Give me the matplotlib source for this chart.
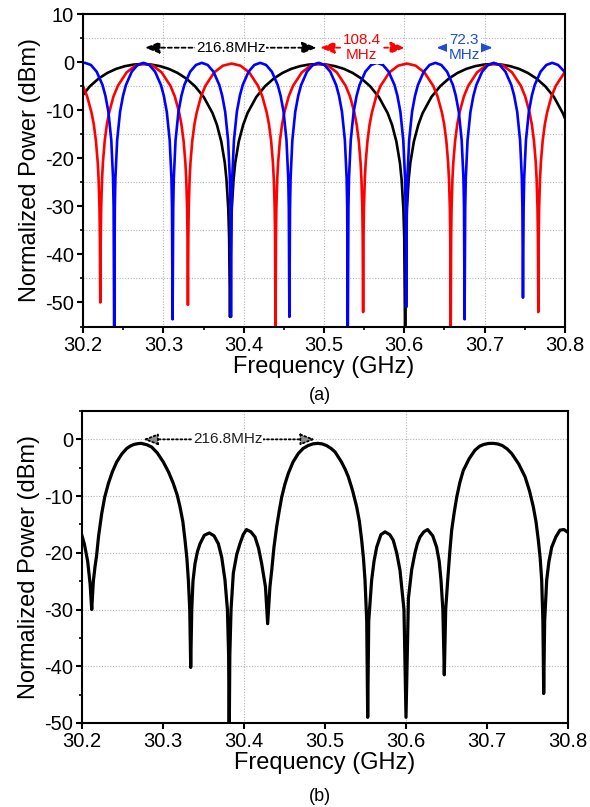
import matplotlib
matplotlib.use('Agg')
import matplotlib.pyplot as plt
from matplotlib.ticker import MultipleLocator

plt.rcParams['font.family'] = ['Liberation Sans', 'DejaVu Sans']
plt.rcParams['axes.unicode_minus'] = False

# ---------------- data: panel (a) ----------------
black_f = [30.2000, 30.2086, 30.2195, 30.2304, 30.2413, 30.2522, 30.2631, 30.2740,
           30.2849, 30.2958, 30.3067, 30.3176, 30.3285, 30.3394, 30.3503, 30.3612,
           30.3667, 30.3721, 30.3765, 30.3786, 30.3808, 30.3819, 30.3830, 30.3841,
           30.3852, 30.3874, 30.3895, 30.3939, 30.3994, 30.4048, 30.4157, 30.4266,
           30.4375, 30.4484, 30.4593, 30.4702, 30.4811, 30.4920, 30.5029, 30.5138,
           30.5247, 30.5356, 30.5465, 30.5574, 30.5683, 30.5792, 30.5847, 30.5901,
           30.5945, 30.5966, 30.5988, 30.5999, 30.6010, 30.6021, 30.6032, 30.6054,
           30.6075, 30.6119, 30.6174, 30.6228, 30.6337, 30.6446, 30.6555, 30.6664,
           30.6773, 30.6882, 30.6991, 30.7100, 30.7209, 30.7318, 30.7427, 30.7536,
           30.7645, 30.7754, 30.7863, 30.7972, 30.8000]
black_db = [-6.8, -5.02, -3.41, -2.24, -1.40, -0.84, -0.51, -0.40,
            -0.51, -0.84, -1.40, -2.24, -3.41, -5.02, -7.26, -10.60,
            -13.04, -16.51, -20.93, -24.44, -30.46, -36.5, -53.0, -36.5,
            -30.46, -24.44, -20.93, -16.51, -13.04, -10.60, -7.26, -5.02,
            -3.41, -2.24, -1.40, -0.84, -0.51, -0.40, -0.51, -0.84,
            -1.40, -2.24, -3.41, -5.02, -7.26, -10.60, -13.04, -16.51,
            -20.93, -24.44, -30.46, -36.5, -58.0, -36.5, -30.46, -24.44,
            -20.93, -16.51, -13.04, -10.60, -7.26, -5.02, -3.41, -2.24,
            -1.40, -0.84, -0.51, -0.40, -0.51, -0.84, -1.40, -2.24,
            -3.41, -5.02, -7.26, -10.60, -11.7]

red_f = [30.2000, 30.2052, 30.2106, 30.2134, 30.2161, 30.2183, 30.2194, 30.2205, 30.2210, 30.2215,
         30.2221, 30.2226, 30.2237, 30.2248, 30.2270, 30.2297, 30.2325, 30.2379, 30.2434, 30.2543, 30.2652, 30.2761,
         30.2870, 30.2979, 30.3088, 30.3143, 30.3197, 30.3225, 30.3252, 30.3274, 30.3285, 30.3296, 30.3301, 30.3306,
         30.3311, 30.3316, 30.3327, 30.3338, 30.3360, 30.3387, 30.3415, 30.3469, 30.3524, 30.3633, 30.3742, 30.3851,
         30.3960, 30.4069, 30.4178, 30.4233, 30.4287, 30.4315, 30.4342, 30.4364, 30.4375, 30.4386, 30.4391, 30.4396,
         30.4402, 30.4407, 30.4418, 30.4429, 30.4451, 30.4478, 30.4506, 30.4560, 30.4615, 30.4724, 30.4833, 30.4942,
         30.5051, 30.5160, 30.5269, 30.5324, 30.5378, 30.5406, 30.5433, 30.5455, 30.5466, 30.5477, 30.5482, 30.5487,
         30.5492, 30.5497, 30.5508, 30.5519, 30.5541, 30.5568, 30.5596, 30.5650, 30.5705, 30.5814, 30.5923, 30.6032,
         30.6141, 30.6250, 30.6359, 30.6414, 30.6468, 30.6496, 30.6523, 30.6545, 30.6556, 30.6567, 30.6572, 30.6577,
         30.6583, 30.6588, 30.6599, 30.6610, 30.6632, 30.6659, 30.6687, 30.6741, 30.6796, 30.6905, 30.7014, 30.7123,
         30.7232, 30.7341, 30.7450, 30.7505, 30.7559, 30.7587, 30.7614, 30.7636, 30.7647, 30.7658, 30.7663, 30.7668,
         30.7673, 30.7678, 30.7689, 30.7700, 30.7722, 30.7749, 30.7777, 30.7831, 30.7886, 30.7995, 30.8000]
red_db = [-5.0, -7.16, -10.50, -12.94, -16.41, -20.83, -24.34, -30.36, -36.4, -50.0,
          -36.4, -30.36, -24.34, -20.83, -16.41, -12.94, -10.50, -7.16, -4.92, -2.14, -0.74, -0.30,
          -0.74, -2.14, -4.92, -7.16, -10.50, -12.94, -16.41, -20.83, -24.34, -30.36, -36.4, -50.5,
          -36.4, -30.36, -24.34, -20.83, -16.41, -12.94, -10.50, -7.16, -4.92, -2.14, -0.74, -0.30,
          -0.74, -2.14, -4.92, -7.16, -10.50, -12.94, -16.41, -20.83, -24.34, -30.36, -36.4, -58.0,
          -36.4, -30.36, -24.34, -20.83, -16.41, -12.94, -10.50, -7.16, -4.92, -2.14, -0.74, -0.30,
          -0.74, -2.14, -4.92, -7.16, -10.50, -12.94, -16.41, -20.83, -24.34, -30.36, -36.4, -52.0,
          -36.4, -30.36, -24.34, -20.83, -16.41, -12.94, -10.50, -7.16, -4.92, -2.14, -0.74, -0.30,
          -0.74, -2.14, -4.92, -7.16, -10.50, -12.94, -16.41, -20.83, -24.34, -30.36, -36.4, -58.0,
          -36.4, -30.36, -24.34, -20.83, -16.41, -12.94, -10.50, -7.16, -4.92, -2.14, -0.74, -0.30,
          -0.74, -2.14, -4.92, -7.16, -10.50, -12.94, -16.41, -20.83, -24.34, -30.36, -36.4, -52.0,
          -36.4, -30.36, -24.34, -20.83, -16.41, -12.94, -10.50, -7.16, -4.92, -2.14, -2.1]

blue_f = [30.2000, 30.2025, 30.2098, 30.2170, 30.2243, 30.2279, 30.2316, 30.2352, 30.2374, 30.2381, 30.2388,
          30.2396, 30.2403, 30.2425, 30.2461, 30.2498, 30.2534, 30.2607, 30.2679, 30.2752,
          30.2825, 30.2897, 30.2970, 30.3006, 30.3043, 30.3079, 30.3101, 30.3108, 30.3115,
          30.3123, 30.3130, 30.3152, 30.3188, 30.3225, 30.3261, 30.3334, 30.3406, 30.3479,
          30.3552, 30.3624, 30.3697, 30.3733, 30.3770, 30.3806, 30.3828, 30.3835, 30.3842,
          30.3850, 30.3857, 30.3879, 30.3915, 30.3952, 30.3988, 30.4061, 30.4133, 30.4206,
          30.4279, 30.4351, 30.4424, 30.4460, 30.4497, 30.4533, 30.4555, 30.4562, 30.4569,
          30.4577, 30.4584, 30.4606, 30.4642, 30.4679, 30.4715, 30.4788, 30.4860, 30.4933,
          30.5006, 30.5078, 30.5151, 30.5187, 30.5224, 30.5260, 30.5282, 30.5289, 30.5296,
          30.5304, 30.5311, 30.5333, 30.5369, 30.5406, 30.5442, 30.5515, 30.5587, 30.5660,
          30.5733, 30.5805, 30.5878, 30.5914, 30.5951, 30.5987, 30.6009, 30.6016, 30.6023,
          30.6031, 30.6038, 30.6060, 30.6096, 30.6133, 30.6169, 30.6242, 30.6314, 30.6387,
          30.6460, 30.6532, 30.6605, 30.6641, 30.6678, 30.6714, 30.6736, 30.6743, 30.6750,
          30.6758, 30.6765, 30.6787, 30.6823, 30.6860, 30.6896, 30.6969, 30.7041, 30.7114,
          30.7187, 30.7259, 30.7332, 30.7368, 30.7405, 30.7441, 30.7463, 30.7470, 30.7477,
          30.7485, 30.7492, 30.7514, 30.7550, 30.7587, 30.7623, 30.7696, 30.7768, 30.7841,
          30.7914, 30.8000]
blue_db = [-0.20, -0.15, -0.59, -1.99, -4.77, -7.01, -10.35, -16.26, -24.19, -30.21, -58.0,
           -30.21, -24.19, -16.26, -10.35, -7.01, -4.77, -1.99, -0.59, -0.15,
           -0.59, -1.99, -4.77, -7.01, -10.35, -16.26, -24.19, -30.21, -53.5,
           -30.21, -24.19, -16.26, -10.35, -7.01, -4.77, -1.99, -0.59, -0.15,
           -0.59, -1.99, -4.77, -7.01, -10.35, -16.26, -24.19, -30.21, -53.0,
           -30.21, -24.19, -16.26, -10.35, -7.01, -4.77, -1.99, -0.59, -0.15,
           -0.59, -1.99, -4.77, -7.01, -10.35, -16.26, -24.19, -30.21, -53.0,
           -30.21, -24.19, -16.26, -10.35, -7.01, -4.77, -1.99, -0.59, -0.15,
           -0.59, -1.99, -4.77, -7.01, -10.35, -16.26, -24.19, -30.21, -58.0,
           -30.21, -24.19, -16.26, -10.35, -7.01, -4.77, -1.99, -0.59, -0.15,
           -0.59, -1.99, -4.77, -7.01, -10.35, -16.26, -24.19, -30.21, -51.0,
           -30.21, -24.19, -16.26, -10.35, -7.01, -4.77, -1.99, -0.59, -0.15,
           -0.59, -1.99, -4.77, -7.01, -10.35, -16.26, -24.19, -30.21, -53.5,
           -30.21, -24.19, -16.26, -10.35, -7.01, -4.77, -1.99, -0.59, -0.15,
           -0.59, -1.99, -4.77, -7.01, -10.35, -16.26, -24.19, -30.21, -49.0,
           -30.21, -24.19, -16.26, -10.35, -7.01, -4.77, -1.99, -0.59, -0.15,
           -0.59, -2.1]

# ---------------- data: panel (b) ----------------
meas_f = [30.2000, 30.2030, 30.2070, 30.2100, 30.2120, 30.2140, 30.2160, 30.2180, 30.2205,
          30.2243, 30.2280, 30.2325, 30.2375, 30.2428, 30.2490, 30.2552, 30.2600, 30.2640,
          30.2690, 30.2730, 30.2800, 30.2860, 30.2930, 30.3004, 30.3070, 30.3128, 30.3175,
          30.3210, 30.3245, 30.3272, 30.3295, 30.3313, 30.3330, 30.3342, 30.3355, 30.3370,
          30.3395, 30.3425, 30.3457, 30.3510, 30.3572, 30.3630, 30.3683, 30.3725, 30.3765,
          30.3795, 30.3810, 30.3817, 30.3825, 30.3840, 30.3868, 30.3910, 30.3950, 30.3990,
          30.4030, 30.4085, 30.4136, 30.4180, 30.4218, 30.4265, 30.4292, 30.4320, 30.4342,
          30.4370, 30.4403, 30.4435, 30.4465, 30.4505, 30.4547, 30.4605, 30.4670, 30.4730,
          30.4790, 30.4850, 30.4910, 30.4965, 30.5020, 30.5075, 30.5123, 30.5200, 30.5250,
          30.5288, 30.5340, 30.5391, 30.5425, 30.5453, 30.5475, 30.5494, 30.5515, 30.5527,
          30.5540, 30.5576, 30.5605, 30.5638, 30.5690, 30.5741, 30.5800, 30.5843, 30.5885,
          30.5926, 30.5975, 30.6000, 30.6030, 30.6070, 30.6111, 30.6140, 30.6173, 30.6220,
          30.6267, 30.6330, 30.6378, 30.6410, 30.6432, 30.6455, 30.6473, 30.6490, 30.6515,
          30.6540, 30.6564, 30.6595, 30.6626, 30.6665, 30.6707, 30.6780, 30.6852, 30.6910,
          30.6960, 30.7020, 30.7078, 30.7135, 30.7190, 30.7250, 30.7305, 30.7390, 30.7470,
          30.7525, 30.7572, 30.7605, 30.7634, 30.7657, 30.7675, 30.7690, 30.7700, 30.7712,
          30.7737, 30.7765, 30.7799, 30.7850, 30.7901, 30.7950, 30.8000]
meas_db = [-17.0, -18.5, -21.5, -25.5, -30.0, -25.0, -22.5, -20.5, -17.0,
           -13.1, -10.2, -7.8, -5.7, -4.0, -2.6, -1.6, -1.15, -0.9,
           -0.75, -0.7, -0.95, -1.35, -2.4, -4.0, -5.8, -7.8, -9.8,
           -11.9, -14.5, -17.8, -21.0, -24.8, -30.0, -40.2, -30.0, -25.0,
           -21.9, -19.8, -18.4, -16.9, -16.5, -17.0, -18.4, -20.8, -24.8,
           -30.0, -38.0, -53.0, -38.0, -30.0, -23.6, -20.3, -18.4, -16.8,
           -15.9, -16.3, -17.2, -19.2, -21.9, -26.0, -32.5, -26.0, -23.1,
           -19.0, -15.4, -12.6, -10.2, -7.9, -6.0, -4.0, -2.5, -1.6,
           -1.1, -0.8, -0.7, -0.8, -1.1, -1.6, -2.2, -3.9, -5.3,
           -6.6, -9.0, -11.9, -14.5, -17.8, -21.0, -24.8, -32.0, -49.0,
           -32.0, -24.8, -21.5, -19.0, -16.8, -16.3, -16.8, -17.8, -20.0,
           -23.1, -30.0, -49.0, -28.0, -23.0, -20.0, -18.4, -17.2, -16.3,
           -15.9, -17.0, -19.0, -21.5, -24.8, -30.0, -41.5, -30.0, -24.8,
           -20.0, -16.0, -12.9, -10.2, -7.6, -5.5, -3.4, -1.9, -1.2,
           -0.9, -0.72, -0.7, -0.82, -1.1, -1.7, -2.5, -4.3, -6.6,
           -9.1, -11.9, -14.5, -17.8, -21.0, -24.8, -32.0, -44.8, -32.0,
           -24.8, -21.5, -19.0, -17.2, -16.0, -15.9, -16.4]

x_ticks = [30.2, 30.3, 30.4, 30.5, 30.6, 30.7, 30.8]
x_labels = ['30.2', '30.3', '30.4', '30.5', '30.6', '30.7', '30.8']
ya_ticks = [10, 0, -10, -20, -30, -40, -50]
yb_ticks = [0, -10, -20, -30, -40, -50]

# ---------------- figure ----------------
fig = plt.figure(figsize=(5.9, 8.07), dpi=100)
ax1 = fig.add_axes([0.1407, 0.5954, 0.8169, 0.3872])
ax2 = fig.add_axes([0.139, 0.1041, 0.8237, 0.3866])

GRID = dict(color='#b4b4b4', linestyle=(0, (1, 1.5)), linewidth=0.8)

def style(ax):
    for s in ax.spines.values():
        s.set_linewidth(1.5)
    ax.tick_params(which='major', direction='out', length=4, width=1.5,
                   labelsize=14.5, pad=2.5)
    ax.tick_params(which='minor', direction='out', length=2.5, width=1.2)
    ax.set_xticks(x_ticks)
    ax.set_xticklabels(x_labels)
    ax.set_xlim(30.2, 30.8)
    ax.set_xlabel('Frequency (GHz)', fontsize=17, labelpad=1)
    ax.set_ylabel('Normalized Power (dBm)', fontsize=17, labelpad=3)
    ax.set_axisbelow(True)

# panel (a)
ax1.plot(black_f, black_db, color='black', lw=1.9)
ax1.plot(red_f, red_db, color='#ff0000', lw=1.9)
ax1.plot(blue_f, blue_db, color='#0000ff', lw=1.9)
ax1.set_ylim(-55, 10)
ax1.set_yticks(ya_ticks)
ax1.yaxis.set_minor_locator(MultipleLocator(5))
ax1.xaxis.set_minor_locator(MultipleLocator(0.05))
style(ax1)
ax1.grid(which='minor', axis='y', **GRID)
ax1.grid(which='major', axis='x', **GRID)

def fsr_arrow(ax, x0, x1, y, color, ls, fc):
    ax.annotate('', xy=(x1, y), xytext=(x0, y),
                arrowprops=dict(arrowstyle='<|-|>,head_length=0.55,head_width=0.22',
                                mutation_scale=16, color=color, fc=fc, lw=1.3,
                                linestyle=ls, shrinkA=0, shrinkB=0), zorder=5)

fsr_arrow(ax1, 30.277, 30.491, 3.0, 'black', (0, (2.2, 1.6)), 'black')
ax1.text(30.384, 3.0, '216.8MHz', ha='center', va='center', fontsize=11,
         color='black', zorder=6,
         bbox=dict(boxstyle='square,pad=0.05', fc='white', ec='none'))
fsr_arrow(ax1, 30.495, 30.601, 3.0, '#ff0000', (0, (2.2, 1.6)), '#ff0000')
ax1.text(30.547, 3.0, '108.4\nMHz', ha='center', va='center', fontsize=11,
         color='#ff0000', linespacing=1.05, zorder=6,
         bbox=dict(boxstyle='square,pad=0.12', fc='white', ec='none'))
fsr_arrow(ax1, 30.640, 30.710, 3.0, '#1d4fd6', '-', '#1d4fd6')
ax1.text(30.6745, 3.0, '72.3\nMHz', ha='center', va='center', fontsize=11,
         color='#1d4fd6', linespacing=1.05, zorder=6,
         bbox=dict(boxstyle='square,pad=0.08', fc='white', ec='none'))

# panel (b)
ax2.plot(meas_f, meas_db, color='black', lw=2.3)
ax2.set_ylim(-50, 5)
ax2.set_yticks(yb_ticks)
ax2.yaxis.set_minor_locator(MultipleLocator(5))
style(ax2)
ax2.grid(which='major', axis='y', **GRID)
for gx in (30.4, 30.6):
    ax2.axvline(gx, zorder=0, **GRID)

fsr_arrow(ax2, 30.2757, 30.4877, 0.0, 'black', (0, (1.0, 1.4)), '#8c8c8c')
ax2.text(30.380, 0.1, '216.8MHz', ha='center', va='center', fontsize=11,
         color='#222222', zorder=6,
         bbox=dict(boxstyle='square,pad=0.05', fc='white', ec='none'))

fig.text(0.5424, 0.5105, '(a)', ha='center', va='center', fontsize=13)
fig.text(0.5424, 0.0124, '(b)', ha='center', va='center', fontsize=13)

fig.savefig('out.png', dpi=100)
